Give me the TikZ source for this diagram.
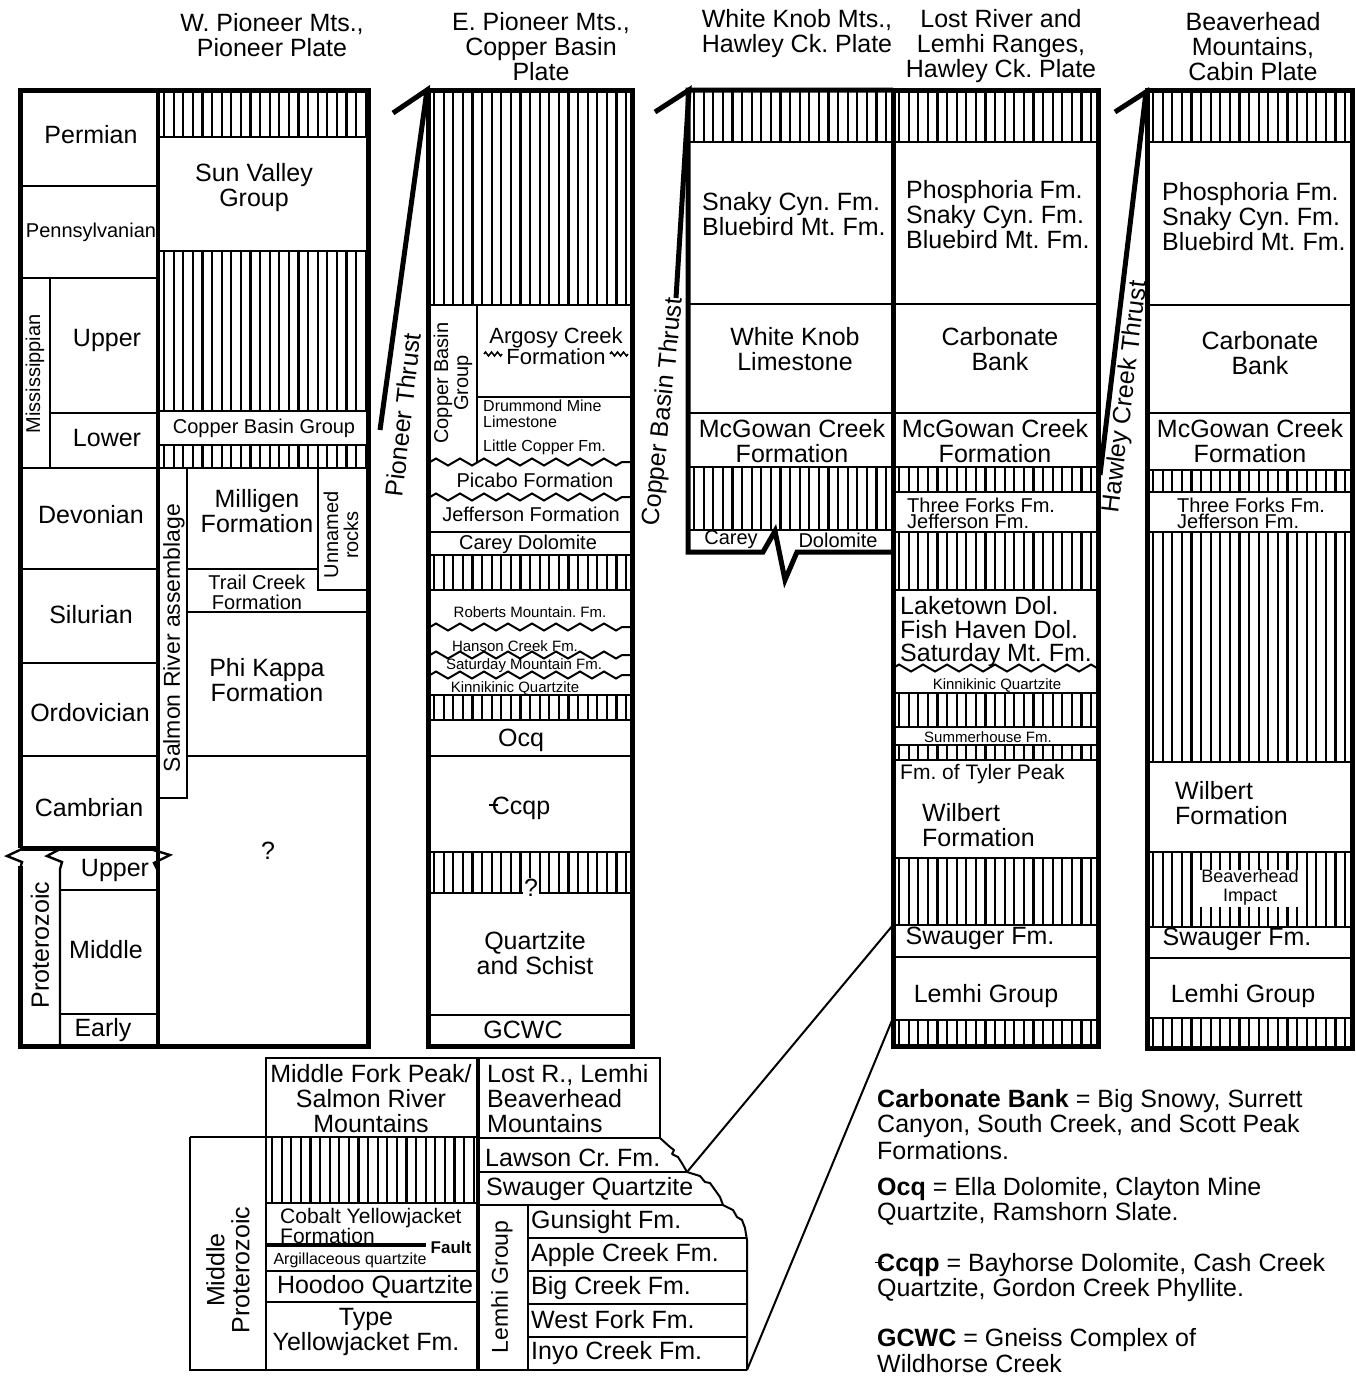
\documentclass[tikz,border=0pt]{standalone}
\usepackage{fontspec}
\setmainfont{Liberation Sans}
\usetikzlibrary{decorations.pathmorphing}
\newcommand\hatchrect[4]{%
  \begin{scope}
    \clip (#1,#2) rectangle (#3,#4);
    \foreach \k in {0,...,23}{\draw[hatchln] ({#1+4+9.6*\k},#2) -- ({#1+4+9.6*\k},#4);}
  \end{scope}}
\newcommand\cstrk{\makebox[0pt][l]{\kern-0.1em\rule[0.32em]{0.36em}{0.07em}}C}
\begin{document}
\frenchspacing
\begin{tikzpicture}[x=1pt,y=-1pt,
  bord/.style={line width=5pt, line join=miter},
  ln/.style={line width=2.4pt},
  hatchln/.style={line width=2.2pt},
  thr/.style={line width=5pt, line join=miter},
  wav/.style={line width=2pt, decorate, decoration={zigzag, segment length=24pt, amplitude=3.5pt}},
  sq/.style={line width=1.5pt, decorate, decoration={zigzag, segment length=6pt, amplitude=2pt}},
  f25/.style={font=\fontsize{25}{25}\selectfont, inner sep=0pt, align=center},
  f22/.style={font=\fontsize{22}{21}\selectfont, inner sep=0pt, align=center},
  f20/.style={font=\fontsize{20}{20}\selectfont, inner sep=0pt, align=center},
  f17/.style={font=\fontsize{17}{16}\selectfont, inner sep=0pt, align=center},
  f15/.style={font=\fontsize{15}{15}\selectfont, inner sep=0pt, align=center},
  leg/.style={font=\fontsize{25}{25}\selectfont, inner sep=0pt, anchor=west}
]
\useasboundingbox (0,0) rectangle (1355,1376);

% ---------------- titles
\node[f25] (h1) at (272,35) {W. Pioneer Mts.,\\Pioneer Plate};
\node[f25] (h2) at (541,47) {E. Pioneer Mts.,\\Copper Basin\\Plate};
\node[f25] (h3) at (797,34) {White Knob Mts.,\\Hawley Ck. Plate};
\node[f25] (h4) at (1001,46) {Lost River and\\Lemhi Ranges,\\Hawley Ck. Plate};
\node[f25] (h5) at (1253,47) {Beaverhead\\Mountains,\\Cabin Plate};

% ---------------- column A: time scale + W. Pioneer
\hatchrect{160}{90}{368}{137}
\hatchrect{160}{251}{368}{411}
\hatchrect{160}{445}{368}{468}
\draw[ln] (160,137)--(368,137) (160,251)--(368,251) (160,411)--(368,411) (160,445)--(368,445);
\draw[ln] (20,186)--(158,186) (20,278)--(158,278) (50,278)--(50,468) (50,413)--(158,413)
          (20,468)--(368,468) (20,569)--(158,569) (20,663)--(158,663) (20,756)--(158,756);
\draw[ln] (187,468)--(187,798)--(160,798);
\draw[ln] (318,468)--(318,590)--(368,590);
\draw[ln] (187,569)--(318,569) (187,612)--(368,612) (187,756)--(368,756);
\draw[ln] (60,890)--(158,890) (60,1014)--(158,1014);
\draw[ln, line join=miter] (24,848)--(7,856)--(22,862)--(20,869);
\draw[ln, line join=miter] (62,848)--(47,856)--(62,862)--(60,869)--(60,1046);
\draw[ln, line join=miter] (150,849)--(170,855)--(154,863)--(157,869);
\draw[line width=4pt] (158,90)--(158,1046);
\draw[bord] (20,848)--(158,848);
\draw[bord] (20,848)--(20,90)--(368,90)--(368,1046)--(20,1046)--(20,866);

\node[f25] (permian) at (91,135) {Permian};
\node[f20] (penn) at (91,232) {Pennsylvanian};
\node[f20, rotate=90] (miss) at (35,374) {Mississippian};
\node[f25] (mupper) at (107,340) {Upper};
\node[f25] (mlower) at (107,438) {Lower};
\node[f25] (devon) at (91,515) {Devonian};
\node[f25] (silur) at (91,615) {Silurian};
\node[f25] (ordov) at (90,713) {Ordovician};
\node[f25] (cambr) at (89,808) {Cambrian};
\node[f25] (pupper) at (115,870) {Upper};
\node[f25, rotate=90] (proter) at (40,945) {Proterozoic};
\node[f25] (pmiddle) at (106,950) {Middle};
\node[f25] (pearly) at (103,1030) {Early};

\node[f25] (sunv) at (254,188) {Sun Valley\\Group};
\node[f20] (cbg) at (264,428) {Copper Basin Group};
\node[font=\fontsize{23}{23}\selectfont, inner sep=0pt, rotate=90] (salmon) at (174,638) {Salmon River assemblage};
\node[f25] (millig) at (257,511) {Milligen\\Formation};
\node[f20, rotate=90] (unnamed) at (341,535) {Unnamed\\rocks};
\node[f20] (trail) at (257,592) {Trail Creek\\Formation};
\node[f25] (phik) at (267,680) {Phi Kappa\\Formation};
\node[f25] (q1) at (268,851) {?};

% ---------------- column B: E. Pioneer
\hatchrect{430}{90}{632}{305}
\hatchrect{430}{555}{632}{590}
\hatchrect{430}{695}{632}{720}
\hatchrect{430}{852}{632}{893}
\draw[ln] (430,305)--(632,305) (477,305)--(477,462) (477,397)--(632,397);
\draw[wav] (430,462)--(632,462);
\draw[wav] (430,497)--(632,497);
\draw[ln] (430,532)--(632,532) (430,555)--(632,555) (430,590)--(632,590);
\draw[wav] (430,627)--(632,627);
\draw[wav] (430,655)--(632,655);
\draw[wav] (430,675)--(632,675);
\draw[ln] (430,695)--(632,695) (430,720)--(632,720) (430,756)--(632,756)
          (430,852)--(632,852) (430,893)--(632,893) (430,1015)--(632,1015);
\draw[bord] (428,90) rectangle (632,1046);
\draw[sq] (484,354)--(502,354);
\draw[sq] (610,354)--(628,354);

\node[f20, rotate=90] (cbg2) at (453,383) {Copper Basin\\Group};
\node[f22] (argosy) at (556,346) {Argosy Creek\\Formation};
\node[f15, font=\fontsize{16}{16}\selectfont, align=left, anchor=west] (drum) at (483,414) {Drummond Mine\\Limestone};
\node[f15, font=\fontsize{16}{16}\selectfont, anchor=west] (lcop) at (483,447) {Little Copper Fm.};
\node[f20] (picabo) at (535,480) {Picabo Formation};
\node[f20] (jeff) at (531,514) {Jefferson Formation};
\node[f20] (carey) at (528,544) {Carey Dolomite};
\node[f15] (robm) at (530,612) {Roberts Mountain. Fm.};
\node[f15] (hanson) at (515,646) {Hanson Creek Fm.};
\node[f15] (satm) at (524,666) {Saturday Mountain Fm.};
\node[f15] (kinn) at (515,688) {Kinnikinic Quartzite};
\node[f25] (ocq) at (521,740) {Ocq};
\node[f25] (ccqp) at (521,808) {\cstrk cqp};
\node[f25, fill=white, inner sep=1pt] (q2) at (531,888) {?};
\node[f25] (qsch) at (535,953) {Quartzite\\and Schist};
\node[f25] (gcwc) at (523,1030) {GCWC};

% ---------------- column C: White Knob
\hatchrect{690}{90}{893}{142}
\hatchrect{690}{467}{893}{530}
\draw[ln] (688,142)--(893,142) (688,304)--(893,304) (688,413)--(893,413) (688,467)--(893,467) (688,530)--(893,530);
\draw[bord] (893,552)--(797,552)--(785,580)--(775,531)--(763,552)--(688,552)--(688,90)--(893,90);
\node[f25, align=left, anchor=west] (snaky1) at (702,214) {Snaky Cyn. Fm.\\Bluebird Mt. Fm.};
\node[f25] (wklime) at (795,349) {White Knob\\Limestone};
\node[f25] (mcg1) at (792,441) {McGowan Creek\\Formation};
\node[f20] (carey2) at (731,540) {Carey};
\node[f20] (dolo2) at (838,540) {Dolomite};

% ---------------- column D: Lost River
\hatchrect{895}{90}{1098}{142}
\hatchrect{895}{467}{1098}{492}
\hatchrect{895}{532}{1098}{590}
\hatchrect{895}{693}{1098}{727}
\hatchrect{895}{745}{1098}{760}
\hatchrect{895}{858}{1098}{925}
\hatchrect{895}{1020}{1098}{1046}
\draw[ln] (893,142)--(1098,142) (893,304)--(1098,304) (893,413)--(1098,413) (893,467)--(1098,467)
          (893,492)--(1098,492) (893,532)--(1098,532) (893,590)--(1098,590);
\draw[wav] (893,668)--(1098,668);
\draw[ln] (893,693)--(1098,693) (893,727)--(1098,727) (893,745)--(1098,745) (893,760)--(1098,760)
          (893,858)--(1098,858) (893,925)--(1098,925) (893,957)--(1098,957) (893,1020)--(1098,1020);
\draw[bord] (893,90) rectangle (1098,1046);
\node[f25, align=left, anchor=west] (phos1) at (906,215) {Phosphoria Fm.\\Snaky Cyn. Fm.\\Bluebird Mt. Fm.};
\node[f25] (cb1) at (1000,349) {Carbonate\\Bank};
\node[f25] (mcg2) at (995,441) {McGowan Creek\\Formation};
\node[f20, font=\fontsize{20}{16}\selectfont, align=left, anchor=west] (tf1) at (907,513) {Three Forks Fm.\\Jefferson Fm.};
\node[f25, font=\fontsize{25}{23.5}\selectfont, align=left, anchor=west] (lake) at (900,632) {Laketown Dol.\\Fish Haven Dol.\\Saturday Mt. Fm.};
\node[f15] (kinn2) at (997,685) {Kinnikinic Quartzite};
\node[f15] (summ) at (988,737) {Summerhouse Fm.};
\node[f22, font=\fontsize{21}{21}\selectfont, anchor=west] (tyler) at (900,774) {Fm. of Tyler Peak};
\node[f25, align=left, anchor=west] (wil1) at (922,825) {Wilbert\\Formation};
\node[f25] (swa1) at (980,938) {Swauger Fm.};
\node[f25] (lem1) at (986,996) {Lemhi Group};

% ---------------- column E: Beaverhead
\hatchrect{1149}{90}{1352}{142}
\hatchrect{1149}{470}{1352}{492}
\hatchrect{1149}{532}{1352}{762}
\hatchrect{1149}{852}{1352}{927}
\hatchrect{1149}{1018}{1352}{1048}
\fill[white] (1199,870) rectangle (1303,907);
\draw[ln] (1147,142)--(1352,142) (1147,305)--(1352,305) (1147,413)--(1352,413) (1147,470)--(1352,470)
          (1147,492)--(1352,492) (1147,532)--(1352,532) (1147,762)--(1352,762) (1147,852)--(1352,852)
          (1147,927)--(1352,927) (1147,958)--(1352,958) (1147,1018)--(1352,1018);
\draw[bord] (1147,90) rectangle (1352,1048);
\node[f25, align=left, anchor=west] (phos2) at (1162,217) {Phosphoria Fm.\\Snaky Cyn. Fm.\\Bluebird Mt. Fm.};
\node[f25] (cb2) at (1260,353) {Carbonate\\Bank};
\node[f25] (mcg3) at (1250,441) {McGowan Creek\\Formation};
\node[f20, font=\fontsize{20}{16}\selectfont, align=left, anchor=west] (tf2) at (1177,513) {Three Forks Fm.\\Jefferson Fm.};
\node[f25, align=left, anchor=west] (wil2) at (1175,803) {Wilbert\\Formation};
\node[f17, font=\fontsize{18}{19}\selectfont] (bimp) at (1250,887) {Beaverhead\\Impact};
\node[f25] (swa2) at (1237,939) {Swauger Fm.};
\node[f25] (lem2) at (1243,996) {Lemhi Group};

% ---------------- thrusts
\draw[thr] (393,113)--(427,90)--(380,430);
\node[f25, rotate=83.5] (pthr) at (403,415) {Pioneer Thrust};
\draw[thr] (655,112)--(689,90)--(676,298);
\node[f25, rotate=84] (cthr) at (664,412) {Copper Basin Thrust};
\draw[thr] (1115,112)--(1146,92)--(1100,475);
\node[f25, rotate=83] (hthr) at (1126,397) {Hawley Creek Thrust};

% ---------------- inset
\hatchrect{268}{1137}{478}{1203}
\draw[ln] (266,1058) rectangle (478,1137);
\draw[ln] (478,1058)--(660,1058)--(660,1138);
\draw[ln] (190,1137)--(478,1137);
\draw[ln] (266,1137)--(266,1370);
\draw[ln] (190,1137)--(190,1370)--(747,1370);
\draw[ln] (266,1203)--(478,1203) (266,1271)--(478,1271) (266,1302)--(478,1302);
\draw[line width=4.5pt] (266,1245)--(426,1245);
\draw[ln] (478,1138)--(660,1138) (478,1172)--(687,1172) (478,1205)--(723,1205)
          (528,1205)--(528,1370) (528,1238)--(747,1238) (528,1271)--(747,1271)
          (528,1304)--(747,1304) (528,1337)--(747,1337);
\draw[line width=2pt, line join=round] (660,1138)--(670,1147)--(674,1150)--(672,1154)--(678,1157)--(683,1165)--(687,1172)
      --(700,1176)--(705,1182)--(710,1183)--(715,1190)--(720,1197)--(723,1205)--(733,1210)--(737,1217)
      --(742,1220)--(745,1228)--(747,1240)--(747,1370);
\draw[line width=4pt] (478,1058)--(478,1370);
\coordinate (tieA) at (687,1172);
\coordinate (tieB) at (893,925);
\coordinate (tieC) at (747,1370);
\coordinate (tieD) at (893,1018);
\draw[line width=2pt] (tieA)--(tieB);
\draw[line width=2pt] (tieC)--(tieD);

\node[f25] (mfp) at (371,1099) {Middle Fork Peak/\\Salmon River\\Mountains};
\node[f25, align=left, anchor=west] (lostr) at (487,1099) {Lost R., Lemhi\\Beaverhead\\Mountains};
\node[f25, rotate=90] (midprot) at (228,1270) {Middle\\Proterozoic};
\node[f22, font=\fontsize{21}{20}\selectfont, align=left, anchor=west] (cobalt) at (280,1226) {Cobalt Yellowjacket\\Formation};
\node[font=\bfseries\fontsize{17}{17}\selectfont, inner sep=0pt] (fault) at (451,1247) {Fault};
\node[f15, font=\fontsize{16}{16}\selectfont] (argil) at (350,1260) {Argillaceous quartzite};
\node[f25] (hoodoo) at (375,1287) {Hoodoo Quartzite};
\node[f25] (typey) at (366,1332) {Type\\Yellowjacket Fm.};
\node[f25, anchor=west] (lawson) at (485,1158) {Lawson Cr. Fm.};
\node[f25, anchor=west] (swq) at (486,1189) {Swauger Quartzite};
\node[f25, font=\fontsize{23}{23}\selectfont, rotate=90] (lemg) at (502,1287) {Lemhi Group};
\node[f25, anchor=west] (guns) at (531,1222) {Gunsight Fm.};
\node[f25, anchor=west] (apple) at (531,1255) {Apple Creek Fm.};
\node[f25, anchor=west] (bigc) at (531,1288) {Big Creek Fm.};
\node[f25, anchor=west] (westf) at (531,1320) {West Fork Fm.};
\node[f25, anchor=west] (inyo) at (531,1353) {Inyo Creek Fm.};

% ---------------- legend
\node[leg] (lg1) at (877,1101) {\textbf{Carbonate Bank} = Big Snowy, Surrett};
\node[leg] (lg2) at (877,1126) {Canyon, South Creek, and Scott Peak};
\node[leg] (lg3) at (877,1151) {Formations.};
\node[leg] (lg4) at (877,1189) {\textbf{Ocq} = Ella Dolomite, Clayton Mine};
\node[leg] (lg5) at (877,1214) {Quartzite, Ramshorn Slate.};
\node[leg] (lg6) at (877,1265) {\textbf{\cstrk cqp} = Bayhorse Dolomite, Cash Creek};
\node[leg] (lg7) at (877,1290) {Quartzite, Gordon Creek Phyllite.};
\node[leg] (lg8) at (877,1340) {\textbf{GCWC} = Gneiss Complex of};
\node[leg] (lg9) at (877,1364) {Wildhorse Creek};
\end{tikzpicture}
\end{document}
